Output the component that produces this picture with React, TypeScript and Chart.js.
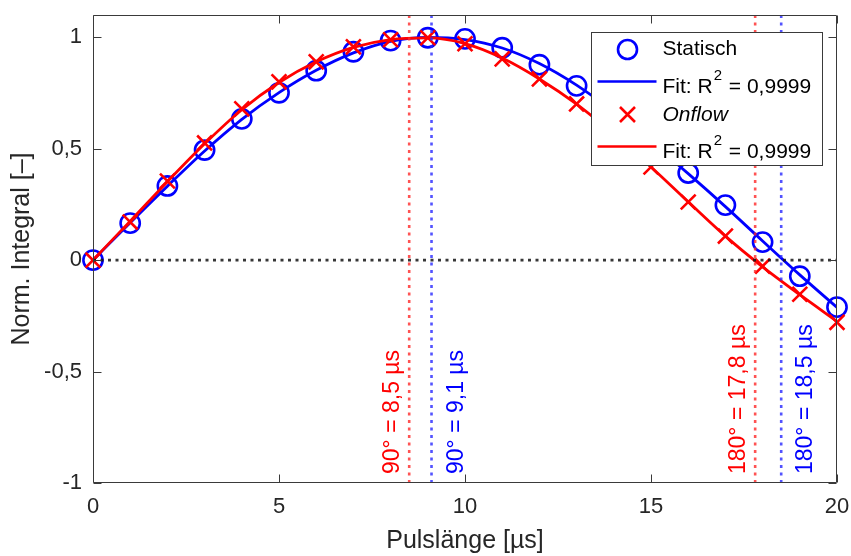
import React, { useEffect, useRef } from "react";
import { Chart, registerables } from "chart.js";

Chart.register(...registerables);

// Pulse lengths in µs
const pulseLength = [0, 1, 2, 3, 4, 5, 6, 7, 8, 9, 10, 11, 12, 13, 14, 15, 16, 17, 18, 19, 20];

// Normalised integral, static measurement
const staticValues = [0, 0.166, 0.333, 0.494, 0.634, 0.751, 0.85, 0.935, 0.985, 0.998, 0.993, 0.953, 0.877, 0.782, 0.66, 0.53, 0.391, 0.247, 0.081, -0.072, -0.211];
const staticFit = [0, 0.168, 0.332, 0.49, 0.632, 0.752, 0.852, 0.93, 0.982, 1.0, 0.99, 0.952, 0.882, 0.785, 0.665, 0.53, 0.388, 0.24, 0.086, -0.066, -0.212];

// Normalised integral, onflow measurement
const onflowValues = [0, 0.171, 0.355, 0.526, 0.679, 0.8, 0.89, 0.957, 0.989, 0.998, 0.971, 0.903, 0.813, 0.701, 0.565, 0.418, 0.261, 0.108, -0.027, -0.153, -0.279];
const onflowFit = [0, 0.175, 0.352, 0.522, 0.675, 0.797, 0.89, 0.955, 0.99, 0.997, 0.972, 0.907, 0.813, 0.7, 0.565, 0.418, 0.262, 0.108, -0.03, -0.155, -0.275];

// Flip-angle markers
const flipTimes = [8.5, 9.1, 17.8, 18.5];
const flipLabels = ["90° = 8,5 µs", "90° = 9,1 µs", "180° = 17,8 µs", "180° = 18,5 µs"];
const flipSeries = ["onflow", "static", "onflow", "static"];

const xRange = [0, 20];
const yRange = [-1, 1.1];
const xTickValues = [0, 5, 10, 15, 20];
const yTickValues = [-1, -0.5, 0, 0.5, 1];

const legendLabels = ["Statisch", "Fit: R", "Onflow", "Fit: R"];
const fitQuality = "0,9999";

const FONT = "'Liberation Sans', Arial, Helvetica, sans-serif";
const BLUE = "#0000ff";
const RED = "#ff0000";
const TEXT = "#262626";
const AXIS = "#3a3a3a";

const fmt = (v: number) => String(v).replace(".", ",");

const overlay = {
  id: "overlay",
  afterDatasetsDraw(chart: any) {
    const { ctx, chartArea: a, scales } = chart;
    const x = scales.x;
    const y = scales.y;
    ctx.save();

    // rotated flip-angle labels beside the dotted lines
    ctx.font = `23px ${FONT}`;
    flipTimes.forEach((t, i) => {
      const isStatic = flipSeries[i] === "static";
      const px = x.getPixelForValue(t);
      ctx.save();
      ctx.translate(isStatic ? px + 31 : px - 10, a.bottom - 9);
      ctx.rotate(-Math.PI / 2);
      ctx.fillStyle = isStatic ? BLUE : RED;
      ctx.textAlign = "left";
      ctx.textBaseline = "alphabetic";
      ctx.fillText(flipLabels[i], 0, 0);
      ctx.restore();
    });

    // axes box with inward ticks
    ctx.strokeStyle = AXIS;
    ctx.lineWidth = 1;
    const L = Math.round(a.left) + 0.5;
    const R = Math.round(a.right) - 0.5;
    const T = Math.round(a.top) + 0.5;
    const B = Math.round(a.bottom) - 0.5;
    ctx.beginPath();
    ctx.rect(L, T, R - L, B - T);
    xTickValues.forEach((v) => {
      const px = Math.round(x.getPixelForValue(v)) + 0.5;
      ctx.moveTo(px, B);
      ctx.lineTo(px, B - 8);
      ctx.moveTo(px, T);
      ctx.lineTo(px, T + 8);
    });
    yTickValues.forEach((v) => {
      const py = Math.round(y.getPixelForValue(v)) + 0.5;
      ctx.moveTo(L, py);
      ctx.lineTo(L + 8, py);
      ctx.moveTo(R, py);
      ctx.lineTo(R - 8, py);
    });
    ctx.stroke();

    // legend
    const lx = Math.round(a.right) - 246 + 0.5;
    const ly = Math.round(a.top) + 17 + 0.5;
    const lw = 231;
    const lh = 133;
    ctx.fillStyle = "#ffffff";
    ctx.fillRect(lx, ly, lw, lh);
    ctx.strokeStyle = AXIS;
    ctx.lineWidth = 1;
    ctx.strokeRect(lx, ly, lw, lh);

    const rows = [ly + 17, ly + 49, ly + 82, ly + 114];
    const mx = lx + 36;
    const tx = lx + 71;
    ctx.lineWidth = 2.6;

    // Statisch marker
    ctx.strokeStyle = BLUE;
    ctx.beginPath();
    ctx.arc(mx, rows[0], 9.5, 0, Math.PI * 2);
    ctx.stroke();
    // blue fit line
    ctx.beginPath();
    ctx.moveTo(lx + 6, rows[1]);
    ctx.lineTo(lx + 65, rows[1]);
    ctx.stroke();
    // Onflow marker
    ctx.strokeStyle = RED;
    ctx.beginPath();
    ctx.moveTo(mx - 7.5, rows[2] - 7.5);
    ctx.lineTo(mx + 7.5, rows[2] + 7.5);
    ctx.moveTo(mx - 7.5, rows[2] + 7.5);
    ctx.lineTo(mx + 7.5, rows[2] - 7.5);
    ctx.stroke();
    // red fit line
    ctx.beginPath();
    ctx.moveTo(lx + 6, rows[3]);
    ctx.lineTo(lx + 65, rows[3]);
    ctx.stroke();

    ctx.fillStyle = "#000000";
    ctx.textAlign = "left";
    ctx.textBaseline = "middle";
    ctx.font = `21px ${FONT}`;
    ctx.fillText(legendLabels[0], tx, rows[0]);
    ctx.font = `italic 21px ${FONT}`;
    ctx.fillText(legendLabels[2], tx, rows[2] + 1);

    const drawFit = (label: string, ry: number) => {
      ctx.font = `21px ${FONT}`;
      ctx.fillText(label, tx, ry + 5.5);
      const w = ctx.measureText(label).width;
      ctx.font = `15px ${FONT}`;
      ctx.fillText("2", tx + w + 1, ry - 5.5);
      const w2 = ctx.measureText("2").width;
      ctx.font = `21px ${FONT}`;
      ctx.fillText(` = ${fitQuality}`, tx + w + w2 + 2, ry + 5.5);
    };
    drawFit(legendLabels[1], rows[1]);
    drawFit(legendLabels[3], rows[3]);

    ctx.restore();
  },
};

export default function App() {
  const ref = useRef<HTMLCanvasElement>(null);

  useEffect(() => {
    const toPoints = (vals: number[]) => pulseLength.map((p, i) => ({ x: p, y: vals[i] }));

    const flipDatasets = flipTimes.map((t, i) => ({
      type: "line" as const,
      data: [
        { x: t, y: yRange[0] },
        { x: t, y: yRange[1] },
      ],
      borderColor: flipSeries[i] === "static" ? "rgba(40,40,255,0.8)" : "rgba(255,40,40,0.8)",
      borderWidth: 2.6,
      borderDash: [3, 4.5],
      pointRadius: 0,
      order: 0,
    }));

    const chart = new Chart(ref.current as HTMLCanvasElement, {
      type: "line",
      data: {
        datasets: [
          ...flipDatasets,
          {
            data: [
              { x: xRange[0], y: 0 },
              { x: xRange[1], y: 0 },
            ],
            borderColor: "rgba(20,20,20,0.85)",
            borderWidth: 2.6,
            borderDash: [3, 4.5],
            pointRadius: 0,
            order: 1,
          },
          {
            data: toPoints(onflowFit),
            borderColor: RED,
            borderWidth: 2.8,
            pointRadius: 0,
            cubicInterpolationMode: "monotone",
            order: 2,
          },
          {
            data: toPoints(onflowValues),
            showLine: false,
            pointStyle: "crossRot",
            pointRadius: 10.5,
            pointBorderWidth: 2.6,
            pointBorderColor: RED,
            borderColor: RED,
            clip: false,
            order: 3,
          },
          {
            data: toPoints(staticFit),
            borderColor: BLUE,
            borderWidth: 2.8,
            pointRadius: 0,
            cubicInterpolationMode: "monotone",
            order: 4,
          },
          {
            data: toPoints(staticValues),
            showLine: false,
            pointStyle: "circle",
            pointRadius: 9.6,
            pointBorderWidth: 2.6,
            pointBorderColor: BLUE,
            pointBackgroundColor: "rgba(0,0,0,0)",
            borderColor: BLUE,
            clip: false,
            order: 5,
          },
        ] as any,
      },
      options: {
        responsive: false,
        animation: false,
        devicePixelRatio: 1,
        events: [],
        layout: { padding: { top: 15, right: 14, left: 0, bottom: 0 } },
        plugins: {
          legend: { display: false },
          tooltip: { enabled: false },
        },
        scales: {
          x: {
            type: "linear",
            min: xRange[0],
            max: xRange[1],
            grid: { display: false, drawTicks: false },
            border: { display: false },
            afterBuildTicks: (s: any) => {
              s.ticks = xTickValues.map((v) => ({ value: v }));
            },
            afterFit: (s: any) => {
              s.height = 73;
              s.paddingLeft = 0;
              s.paddingRight = 0;
            },
            ticks: {
              color: TEXT,
              font: { family: FONT, size: 22 },
              padding: 11,
              maxRotation: 0,
              autoSkip: false,
              callback: (v: any) => fmt(Number(v)),
            },
            title: {
              display: true,
              text: "Pulslänge [µs]",
              color: TEXT,
              font: { family: FONT, size: 25 },
              padding: { top: 0, bottom: 0 },
            },
          },
          y: {
            type: "linear",
            min: yRange[0],
            max: yRange[1],
            grid: { display: false, drawTicks: false },
            border: { display: false },
            afterBuildTicks: (s: any) => {
              s.ticks = yTickValues.map((v) => ({ value: v }));
            },
            afterFit: (s: any) => {
              s.width = 93;
              s.paddingTop = 0;
              s.paddingBottom = 0;
            },
            ticks: {
              color: TEXT,
              font: { family: FONT, size: 22 },
              padding: 11,
              autoSkip: false,
              callback: (v: any) => fmt(Number(v)),
            },
            title: {
              display: true,
              text: "Norm. Integral [–]",
              color: TEXT,
              font: { family: FONT, size: 25 },
              padding: { top: 7, bottom: 0 },
            },
          },
        },
      } as any,
      plugins: [overlay],
    });

    return () => chart.destroy();
  }, []);

  return (
    <div style={{ position: "absolute", left: 0, top: 0, width: 851, height: 556, background: "#fff" }}>
      <canvas ref={ref} width={851} height={556} style={{ display: "block" }} />
    </div>
  );
}
